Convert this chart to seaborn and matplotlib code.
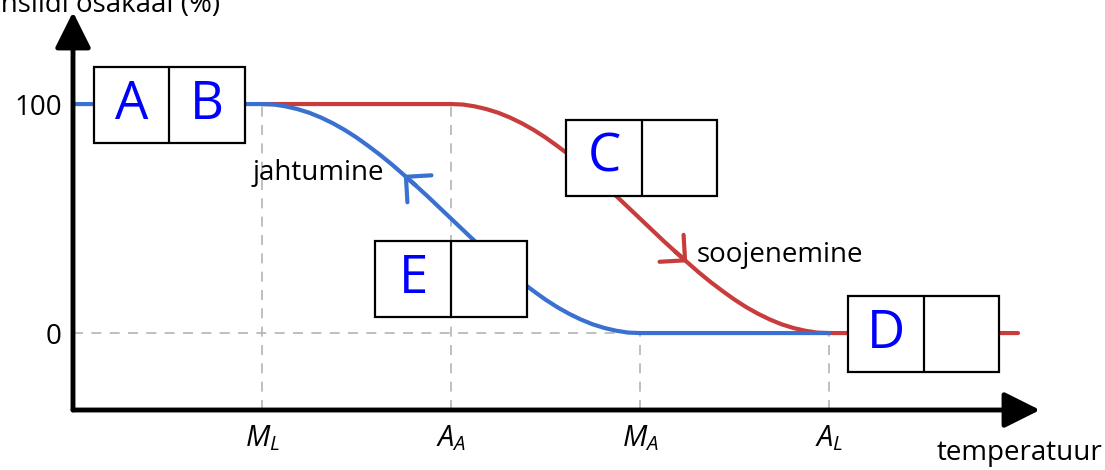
import matplotlib
matplotlib.use("Agg")
import matplotlib.pyplot as plt
import matplotlib.patches as patches
import seaborn as sns

# ── data ───────────────────────────────────────────────
temp_ticks  = [1, 2, 3, 4]
temp_labels = [r'$M_L$', r'$A_A$', r'$M_A$', r'$A_L$']
frac_ticks  = [0, 100]
frac_labels = ['0', '100']

# cooling (blue): 100 % until M_L, down to 0 % at M_A
cool_temp = [0, 1, 1.0625, 1.125, 1.1875, 1.25, 1.3125, 1.375, 1.4375, 1.5,
             1.5625, 1.625, 1.6875, 1.75, 1.8125, 1.875, 1.9375, 2,
             2.0625, 2.125, 2.1875, 2.25, 2.3125, 2.375, 2.4375, 2.5,
             2.5625, 2.625, 2.6875, 2.75, 2.8125, 2.875, 2.9375, 3, 4]
cool_frac = [100, 100, 99.8, 99.0, 97.8, 96.2, 94.1, 91.6, 88.7, 85.4,
             81.7, 77.8, 73.6, 69.1, 64.5, 59.8, 54.9, 50,
             45.1, 40.2, 35.5, 30.9, 26.4, 22.2, 18.3, 14.6,
             11.3, 8.4, 5.9, 3.8, 2.2, 1.0, 0.2, 0, 0]

# heating (red): 100 % until A_A, down to 0 % at A_L
heat_temp = [1, 2, 2.0625, 2.125, 2.1875, 2.25, 2.3125, 2.375, 2.4375, 2.5,
             2.5625, 2.625, 2.6875, 2.75, 2.8125, 2.875, 2.9375, 3,
             3.0625, 3.125, 3.1875, 3.25, 3.3125, 3.375, 3.4375, 3.5,
             3.5625, 3.625, 3.6875, 3.75, 3.8125, 3.875, 3.9375, 4, 5]
heat_frac = [100, 100, 99.8, 99.0, 97.8, 96.2, 94.1, 91.6, 88.7, 85.4,
             81.7, 77.8, 73.6, 69.1, 64.5, 59.8, 54.9, 50,
             45.1, 40.2, 35.5, 30.9, 26.4, 22.2, 18.3, 14.6,
             11.3, 8.4, 5.9, 3.8, 2.2, 1.0, 0.2, 0, 0]

box_left   = ['A', 'C', 'E', 'D']
box_right  = ['B', '', '', '']
box_x0     = [0.11, 2.61, 1.60, 4.10]
box_y0     = [83, 60, 7, -17]
BOX_W, BOX_H = 0.80, 33

BLUE = '#3a70d0'
RED  = '#c83c3c'
GREY = '#b4b4b4'

sns.set_style("white")
plt.rcParams['font.family'] = ['Open Sans', 'DejaVu Sans']
plt.rcParams['mathtext.fontset'] = 'custom'
plt.rcParams['mathtext.rm'] = 'Open Sans'
plt.rcParams['mathtext.it'] = 'Open Sans:italic'
plt.rcParams['text.color'] = 'black'
plt.rcParams['xtick.color'] = 'black'
plt.rcParams['ytick.color'] = 'black'

fig = plt.figure(figsize=(11.05, 4.70), dpi=100)
ax = fig.add_axes([73 / 1105, 60 / 470, 967 / 1105, 398 / 470])
ax.set_xlim(0, 967 / 189)
ax.set_ylim(-33.6, -33.6 + 398 / 2.29)
sns.despine(ax=ax, left=True, bottom=True, right=True, top=True)

# dashed guides
guide_top = [100, 100, 0, 0]
for t, top in zip(temp_ticks, guide_top):
    ax.plot([t, t], [ax.get_ylim()[0], top], color=GREY, lw=1.2,
            ls=(0, (6, 5)), zorder=1)
ax.plot([0, temp_ticks[-1]], [0, 0], color=GREY, lw=1.2, ls=(0, (6, 5)), zorder=1)

# curves (blue drawn over red)
sns.lineplot(x=heat_temp, y=heat_frac, color=RED, linewidth=3, ax=ax, zorder=2)
sns.lineplot(x=cool_temp, y=cool_frac, color=BLUE, linewidth=3, ax=ax, zorder=2.5)

# direction chevrons on the curves
i = cool_temp.index(1.75)
ax.annotate('', xy=(cool_temp[i], cool_frac[i]), xytext=(cool_temp[i + 1], cool_frac[i + 1]),
            arrowprops=dict(arrowstyle='->,head_length=0.65,head_width=0.65',
                            color=BLUE, lw=3, mutation_scale=20, shrinkA=0, shrinkB=0),
            zorder=2.5)
j = heat_temp.index(3.25)
ax.annotate('', xy=(heat_temp[j], heat_frac[j]), xytext=(heat_temp[j - 1], heat_frac[j - 1]),
            arrowprops=dict(arrowstyle='->,head_length=0.65,head_width=0.65',
                            color=RED, lw=3, mutation_scale=20, shrinkA=0, shrinkB=0),
            zorder=2)

ax.text(0.95, 70, 'jahtumine', fontsize=20, ha='left', va='center')
ax.text(3.30, 34, 'soojenemine', fontsize=20, ha='left', va='center')

# boxes with letters
for l, r, x0, y0 in zip(box_left, box_right, box_x0, box_y0):
    ax.add_patch(patches.Rectangle((x0, y0), BOX_W, BOX_H, facecolor='white',
                                   edgecolor='black', lw=1.6, zorder=3))
    ax.plot([x0 + BOX_W / 2] * 2, [y0, y0 + BOX_H], color='black', lw=1.6, zorder=4)
    ax.text(x0 + BOX_W / 4, y0 + BOX_H / 2, l, color='#0000ff', fontsize=38,
            ha='center', va='center', zorder=5)
    ax.text(x0 + 3 * BOX_W / 4, y0 + BOX_H / 2, r, color='#0000ff', fontsize=38,
            ha='center', va='center', zorder=5)

# axes with arrow heads
arrow = dict(arrowstyle='-|>,head_length=1.1,head_width=0.55', color='black',
             lw=3.5, mutation_scale=20, shrinkA=0, shrinkB=0)
ax.annotate('', xy=(1, 0), xytext=(0, 0), xycoords='axes fraction', arrowprops=arrow)
ax.annotate('', xy=(0, 1), xytext=(0, 0), xycoords='axes fraction', arrowprops=arrow)

ax.set_xticks(temp_ticks)
ax.set_xticklabels(temp_labels, fontsize=21)
ax.set_yticks(frac_ticks)
ax.set_yticklabels(frac_labels, fontsize=20)
ax.tick_params(axis='x', length=0, pad=10)
ax.tick_params(axis='y', length=0, pad=8)
ax.grid(False)

fig.text(1102 / 1105, 10 / 470, 'temperatuur', fontsize=20, ha='right', va='baseline')
fig.text(220 / 1105, 1 - 12 / 470, 'martensiidi osakaal (%)', fontsize=20,
         ha='right', va='baseline')

fig.savefig('out.png', dpi=100)
